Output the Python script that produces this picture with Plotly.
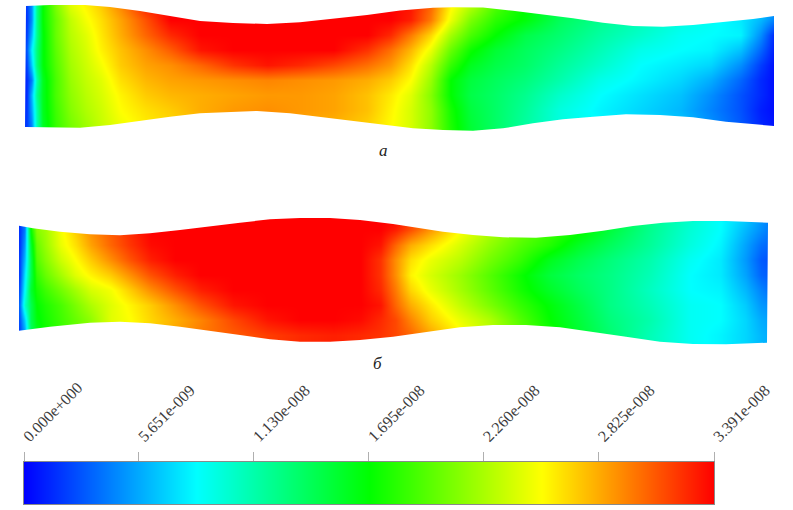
import numpy as np
import plotly.graph_objects as go

# Colour bar
BAR_VALUES = [0.0, 0.5651, 1.130, 1.695, 2.260, 2.825, 3.391]   # units of 1e-8
BAR_LABELS = ["0.000e+000", "5.651e-009", "1.130e-008", "1.695e-008",
              "2.260e-008", "2.825e-008", "3.391e-008"]
VMAX = 3.391

# Panel a: outline, picture coordinates
A_TOP_X = [26, 50, 85, 110, 140, 170, 200, 233, 267, 300, 333, 367, 400, 413, 433, 453, 483, 513, 543, 573, 603, 633, 663, 693, 723, 753, 774]
A_TOP_Y = [6, 5, 5, 7, 11, 16, 21, 23, 24, 22.3, 19, 15, 10.6, 9.2, 7.8, 7.3, 7.5, 10.7, 14.3, 18.3, 22.7, 26, 26.7, 25, 22, 19, 16]
A_BOT_X = [25, 50, 80, 110, 140, 170, 200, 233, 257, 290, 320, 350, 380, 413, 443, 473, 503, 533, 563, 593, 626, 660, 693, 726, 774]
A_BOT_Y = [127, 127.7, 127.7, 125, 120.7, 116.7, 113.3, 111.7, 111, 113.3, 116.7, 120.7, 124.3, 128.3, 130, 130.7, 128.3, 123.3, 119.3, 116.7, 114.3, 115, 117.3, 121.7, 126]

# Panel a: field as percent of the colour-bar maximum
A_X = [26, 31, 36, 42, 55, 70, 85, 100, 120, 145, 170, 200, 233, 267, 300, 333, 367, 390, 410, 430, 450, 470, 495, 525, 560, 600, 640, 680, 710, 740, 760, 775]
A_Y = [5, 20, 35, 50, 65, 80, 95, 110, 131]
A_Z = [
    [6, 14, 36, 50, 62, 72, 76, 80, 87, 97, 100, 100, 100, 100, 100, 100, 100, 100, 98, 90, 76, 68, 58, 50, 42, 37, 33, 29, 26, 25, 20, 16],
    [5, 14, 36, 50, 60, 69, 74, 78, 84, 92, 100, 100, 100, 100, 100, 100, 100, 100, 97, 88, 73, 62, 54, 49, 41, 36, 32, 28, 26, 23, 18, 12],
    [6, 18, 36, 49, 60, 68, 72, 77, 83, 90, 96, 100, 100, 100, 100, 100, 100, 96, 88, 79, 66, 57, 50, 43, 39, 34, 30, 26, 25, 24, 14, 3],
    [8, 24, 38, 49, 59, 67, 71, 76, 81, 86, 91, 98, 100, 100, 100, 100, 95, 89, 82, 73, 60, 51, 45, 41, 37, 32, 27, 25, 24, 19, 10, 2],
    [6, 20, 38, 49, 58, 66, 70, 74, 80, 84, 86, 90, 95, 98, 96, 93, 89, 85, 78, 68, 55, 47, 43, 40, 35, 30, 25, 23, 21, 14, 6, 1],
    [4, 12, 33, 47, 57, 65, 69, 72, 78, 82, 84, 85, 86, 87, 86, 85, 83, 80, 75, 65, 50, 44, 41, 38, 33, 27, 24, 21, 17, 10, 4, 1],
    [4, 18, 36, 47, 57, 64, 68, 71, 76, 80, 82, 83, 84, 85, 85, 84, 81, 77, 72, 63, 50, 43, 40, 36, 30, 25, 22, 19, 14, 8, 4, 1],
    [5, 16, 33, 47, 56, 63, 67, 70, 75, 78, 80, 83, 85, 86, 85, 84, 81, 76, 71, 64, 52, 44, 40, 35, 28, 24, 21, 18, 13, 8, 3, 1],
    [6, 12, 32, 46, 55, 61, 65, 69, 73, 76, 78, 80, 82, 83, 83, 82, 79, 75, 71, 64, 53, 45, 40, 34, 28, 25, 22, 20, 15, 9, 4, 2],
]

# Panel b: outline, picture coordinates
B_TOP_X = [19, 33, 60, 90, 120, 150, 180, 210, 240, 270, 300, 330, 360, 393, 413, 443, 473, 503, 536, 570, 603, 633, 663, 693, 726, 768]
B_TOP_Y = [225.7, 228.3, 231.7, 234.3, 235.3, 233.3, 230, 226.7, 222.7, 219.3, 218, 218, 220, 224, 227.3, 231.7, 235, 237.3, 237.7, 235, 230.7, 226, 222.7, 221, 221, 222.7]
B_BOT_X = [19, 50, 90, 120, 150, 180, 210, 240, 270, 300, 330, 360, 393, 426, 460, 493, 526, 560, 593, 626, 660, 693, 726, 767]
B_BOT_Y = [330.7, 326.7, 322.7, 321.7, 323.3, 326.7, 330.7, 335, 339.3, 341.7, 341.7, 340, 336.7, 331.7, 327.3, 325, 325, 327.3, 331.7, 336.7, 341.7, 344, 344.3, 342.7]

# Panel b: field as percent of the colour-bar maximum
B_X = [19, 24, 30, 36, 45, 60, 75, 90, 110, 130, 150, 175, 200, 233, 267, 300, 333, 360, 380, 395, 410, 430, 460, 490, 520, 550, 580, 610, 650, 690, 720, 745, 760, 768]
B_Y = [218, 230, 245, 260, 275, 290, 305, 320, 335, 345]
B_Z = [
    [5, 12, 55, 65, 68, 74, 79, 85, 90, 96, 100, 100, 100, 100, 100, 100, 100, 100, 100, 100, 94, 86, 75, 66, 60, 55, 50, 43, 36, 30, 25, 20, 15, 13],
    [5, 12, 50, 63, 66, 74, 80, 86, 91, 96, 100, 100, 100, 100, 100, 100, 100, 100, 100, 97, 92, 85, 75, 67, 61, 56, 51, 44, 36, 29, 25, 18, 14, 12],
    [5, 15, 45, 60, 65, 73, 78, 84, 90, 95, 99, 100, 100, 100, 100, 100, 100, 100, 98, 90, 83, 78, 71, 64, 58, 53, 46, 41, 35, 28, 24, 16, 11, 10],
    [6, 18, 42, 58, 63, 70, 75, 80, 86, 92, 97, 100, 100, 100, 100, 100, 100, 100, 95, 86, 78, 73, 68, 61, 55, 47, 42, 38, 33, 26, 23, 15, 9, 8],
    [6, 22, 42, 55, 60, 66, 72, 76, 80, 86, 92, 97, 100, 100, 100, 100, 100, 100, 95, 86, 76, 71, 65, 58, 51, 44, 40, 37, 32, 25, 23, 16, 10, 9],
    [8, 25, 45, 52, 56, 61, 66, 71, 74, 80, 86, 92, 97, 100, 100, 100, 100, 100, 96, 88, 79, 73, 66, 59, 52, 46, 41, 37, 31, 25, 24, 18, 13, 11],
    [10, 30, 42, 50, 53, 57, 62, 67, 72, 76, 80, 86, 92, 98, 100, 100, 100, 100, 98, 90, 83, 77, 69, 62, 55, 49, 43, 37, 32, 26, 25, 20, 15, 14],
    [8, 20, 42, 49, 52, 56, 60, 64, 72, 75, 79, 83, 87, 93, 98, 100, 100, 99, 96, 93, 87, 80, 73, 67, 58, 50, 44, 38, 33, 26, 25, 21, 17, 16],
    [6, 15, 40, 47, 51, 55, 60, 65, 72, 75, 79, 84, 88, 91, 94, 96, 97, 96, 95, 93, 90, 84, 76, 69, 60, 52, 45, 39, 32, 26, 24, 21, 18, 17],
    [6, 15, 40, 47, 51, 55, 60, 65, 72, 75, 79, 84, 88, 91, 94, 96, 97, 96, 95, 93, 90, 84, 76, 69, 60, 52, 45, 39, 32, 26, 24, 21, 18, 17],
]

W, H = 793, 510
RAINBOW = [[0, "rgb(0,0,255)"], [0.25, "rgb(0,255,255)"], [0.5, "rgb(0,255,0)"],
           [0.75, "rgb(255,255,0)"], [1, "rgb(255,0,0)"]]
SERIF = "Liberation Serif"


def field(x, y, z):
    return go.Heatmap(x=x, y=y, z=(np.array(z, float) / 100 * VMAX).tolist(),
                      zmin=0, zmax=VMAX, zsmooth="best", colorscale=RAINBOW,
                      showscale=False, hoverinfo="skip")


def mask(top_x, top_y, bot_x, bot_y, y0, y1):
    """White frame with the channel outline left open, drawn over the field."""
    xs = [0, 0, W, W, 0, None] + top_x + bot_x[::-1] + [top_x[0]]
    ys = [y0, y1, y1, y0, y0, None] + top_y + bot_y[::-1] + [top_y[0]]
    return go.Scatter(x=xs, y=ys, mode="lines", fill="toself", fillcolor="white",
                      line=dict(width=0), hoverinfo="skip", showlegend=False)


fig = go.Figure()
fig.add_trace(field(A_X, A_Y, A_Z))
fig.add_trace(mask(A_TOP_X, A_TOP_Y, A_BOT_X, A_BOT_Y, 0, 146))
fig.add_trace(field(B_X, B_Y, B_Z))
fig.add_trace(mask(B_TOP_X, B_TOP_Y, B_BOT_X, B_BOT_Y, 204, 356))
fig.add_trace(go.Heatmap(x=BAR_VALUES, y=[0, 1], z=[BAR_VALUES, BAR_VALUES],
                         zmin=0, zmax=VMAX, zsmooth="best", colorscale=RAINBOW,
                         showscale=False, hoverinfo="skip", xaxis="x2", yaxis="y2"))

fig.update_layout(
    width=W, height=H, margin=dict(l=0, r=0, t=0, b=0, autoexpand=False),
    paper_bgcolor="white", plot_bgcolor="white", showlegend=False,
    xaxis=dict(range=[0, W], domain=[0, 1], visible=False, fixedrange=True, automargin=False),
    yaxis=dict(range=[H, 0], domain=[0, 1], visible=False, fixedrange=True, automargin=False),
    xaxis2=dict(range=[0, VMAX], domain=[24 / W, 714 / W], anchor="y2", side="top",
                tickmode="array", tickvals=BAR_VALUES, ticktext=BAR_LABELS,
                tickangle=-45, ticks="outside", ticklen=9, tickcolor="#b0b0b0", tickwidth=1,
                tickfont=dict(family=SERIF, size=16, color="#3c3c3c"),
                showline=True, linecolor="#8a8a8a", linewidth=1, mirror=True,
                showgrid=False, zeroline=False, fixedrange=True, automargin=False),
    yaxis2=dict(range=[0, 1], domain=[1 - 504 / H, 1 - 461.5 / H], anchor="x2",
                showticklabels=False, ticks="", showline=True, linecolor="#8a8a8a",
                linewidth=1, mirror=True, showgrid=False, zeroline=False, fixedrange=True,
                automargin=False),
    annotations=[
        dict(x=383, y=150, xref="x", yref="y", text="<i>а</i>", showarrow=False,
             font=dict(family=SERIF, size=17, color="#222222")),
        dict(x=377, y=363, xref="x", yref="y", text="<i>б</i>", showarrow=False,
             font=dict(family=SERIF, size=17, color="#222222")),
    ],
)
fig.write_html("out.html", config={"displayModeBar": False},
               post_script="document.body.style.margin='0';document.documentElement.style.overflow='hidden';")
